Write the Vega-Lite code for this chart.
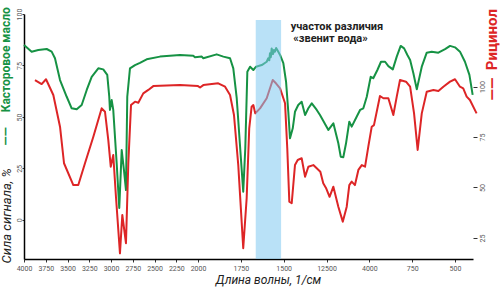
{
  "$schema": "https://vega.github.io/schema/vega-lite/v6.json",
  "width": 449,
  "height": 245,
  "autosize": {"type": "none"},
  "padding": {"left": 24, "top": 14, "right": 27, "bottom": 28},
  "background": "white",
  "config": {
    "view": {"stroke": null},
    "axis": {"grid": false, "labelFont": "Roboto", "titleFont": "Roboto", "labelOverlap": false, "labelFlush": false, "labelBound": false}
  },
  "datasets": {
    "castor": [
      {"wn":4000,"v":84.9},{"wn":3912,"v":81.7},{"wn":3836,"v":82.5},{"wn":3739,"v":83.0},{"wn":3682,"v":81.7},{"wn":3644,"v":78.5},{"wn":3586,"v":67.9},{"wn":3509,"v":59.8},{"wn":3452,"v":54.2},{"wn":3394,"v":53.7},{"wn":3337,"v":55.8},{"wn":3279,"v":63.1},{"wn":3222,"v":69.5},{"wn":3146,"v":73.6},{"wn":3089,"v":73.1},{"wn":3043,"v":70.4},{"wn":3020,"v":59.8},{"wn":3012,"v":53.4},{"wn":2992,"v":58.2},{"wn":2974,"v":53.4},{"wn":2935,"v":27.6},{"wn":2905,"v":5.8},{"wn":2877,"v":33.9},{"wn":2851,"v":24.2},{"wn":2828,"v":14.5},{"wn":2813,"v":59.8},{"wn":2782,"v":73.6},{"wn":2724,"v":75.2},{"wn":2667,"v":76.3},{"wn":2590,"v":78.0},{"wn":2437,"v":79.3},{"wn":2207,"v":80.1},{"wn":2054,"v":79.7},{"wn":2035,"v":79.0},{"wn":1978,"v":79.3},{"wn":1969,"v":78.5},{"wn":1891,"v":80.4},{"wn":1852,"v":79.3},{"wn":1813,"v":78.5},{"wn":1794,"v":73.6},{"wn":1774,"v":59.1},{"wn":1751,"v":31.5},{"wn":1736,"v":13.7},{"wn":1724,"v":34.8},{"wn":1712,"v":72.0},{"wn":1696,"v":74.4},{"wn":1677,"v":72.8},{"wn":1661,"v":74.4},{"wn":1628,"v":75.2},{"wn":1599,"v":76.8},{"wn":1590,"v":78.5},{"wn":1584,"v":77.5},{"wn":1580,"v":80.9},{"wn":1575,"v":79.0},{"wn":1570,"v":83.3},{"wn":1562,"v":80.5},{"wn":1557,"v":82.5},{"wn":1551,"v":81.7},{"wn":1544,"v":83.5},{"wn":1537,"v":82.5},{"wn":1521,"v":80.1},{"wn":1502,"v":76.1},{"wn":1486,"v":67.1},{"wn":1473,"v":52.5},{"wn":1463,"v":39.6},{"wn":1447,"v":44.5},{"wn":1434,"v":52.5},{"wn":1415,"v":55.8},{"wn":1395,"v":57.4},{"wn":1375,"v":50.9},{"wn":1356,"v":54.2},{"wn":1336,"v":56.6},{"wn":1307,"v":53.4},{"wn":1288,"v":50.9},{"wn":1239,"v":43.7},{"wn":1210,"v":46.9},{"wn":1181,"v":37.2},{"wn":1167,"v":30.7},{"wn":1152,"v":30.4},{"wn":1136,"v":37.2},{"wn":1117,"v":47.7},{"wn":1103,"v":45.3},{"wn":1074,"v":50.1},{"wn":1054,"v":53.4},{"wn":1035,"v":54.2},{"wn":1015,"v":59.8},{"wn":992,"v":69.5},{"wn":977,"v":68.8},{"wn":953,"v":72.8},{"wn":932,"v":76.8},{"wn":908,"v":76.8},{"wn":889,"v":74.7},{"wn":863,"v":73.1},{"wn":840,"v":79.3},{"wn":817,"v":84.5},{"wn":797,"v":83.3},{"wn":778,"v":80.1},{"wn":762,"v":77.7},{"wn":743,"v":71.2},{"wn":723,"v":63.4},{"wn":694,"v":74.4},{"wn":665,"v":81.2},{"wn":636,"v":81.7},{"wn":597,"v":81.2},{"wn":558,"v":82.9},{"wn":529,"v":84.5},{"wn":500,"v":83.8},{"wn":471,"v":81.7},{"wn":442,"v":76.8},{"wn":416,"v":70.4},{"wn":397,"v":60.7}
    ],
    "ricinol": [
      {"wn":3874,"v":103.2},{"wn":3797,"v":101.2},{"wn":3747,"v":103.6},{"wn":3663,"v":95.8},{"wn":3586,"v":80.1},{"wn":3540,"v":62.0},{"wn":3433,"v":51.2},{"wn":3376,"v":51.2},{"wn":3299,"v":62.0},{"wn":3203,"v":75.1},{"wn":3107,"v":89.2},{"wn":3069,"v":87.5},{"wn":3031,"v":73.5},{"wn":3003,"v":60.3},{"wn":2974,"v":66.1},{"wn":2943,"v":45.4},{"wn":2897,"v":17.4},{"wn":2870,"v":36.4},{"wn":2828,"v":22.4},{"wn":2801,"v":62.0},{"wn":2770,"v":90.8},{"wn":2724,"v":92.5},{"wn":2686,"v":92.0},{"wn":2629,"v":96.6},{"wn":2571,"v":98.3},{"wn":2514,"v":100.2},{"wn":2207,"v":100.7},{"wn":2000,"v":100.2},{"wn":1988,"v":99.5},{"wn":1969,"v":100.7},{"wn":1882,"v":101.6},{"wn":1842,"v":99.9},{"wn":1813,"v":95.8},{"wn":1790,"v":85.9},{"wn":1765,"v":61.1},{"wn":1736,"v":19.9},{"wn":1716,"v":44.7},{"wn":1701,"v":79.3},{"wn":1687,"v":90.0},{"wn":1677,"v":90.8},{"wn":1666,"v":86.7},{"wn":1638,"v":89.2},{"wn":1599,"v":94.2},{"wn":1564,"v":103.2},{"wn":1545,"v":101.6},{"wn":1521,"v":99.1},{"wn":1492,"v":91.7},{"wn":1479,"v":69.4},{"wn":1467,"v":43.0},{"wn":1453,"v":42.2},{"wn":1434,"v":61.1},{"wn":1418,"v":63.6},{"wn":1395,"v":64.5},{"wn":1375,"v":55.3},{"wn":1356,"v":60.3},{"wn":1327,"v":61.1},{"wn":1307,"v":59.5},{"wn":1286,"v":57.8},{"wn":1269,"v":52.1},{"wn":1253,"v":49.8},{"wn":1232,"v":45.4},{"wn":1210,"v":50.4},{"wn":1181,"v":40.5},{"wn":1155,"v":33.1},{"wn":1132,"v":40.5},{"wn":1117,"v":51.2},{"wn":1103,"v":52.9},{"wn":1084,"v":51.2},{"wn":1064,"v":58.7},{"wn":1044,"v":61.1},{"wn":1025,"v":60.3},{"wn":1006,"v":70.2},{"wn":986,"v":80.1},{"wn":973,"v":80.9},{"wn":938,"v":95.3},{"wn":918,"v":94.2},{"wn":889,"v":94.2},{"wn":860,"v":85.9},{"wn":840,"v":95.0},{"wn":821,"v":103.2},{"wn":786,"v":102.4},{"wn":762,"v":99.9},{"wn":739,"v":86.7},{"wn":718,"v":68.6},{"wn":694,"v":86.7},{"wn":665,"v":97.4},{"wn":626,"v":98.3},{"wn":597,"v":97.8},{"wn":568,"v":99.9},{"wn":529,"v":102.4},{"wn":500,"v":103.6},{"wn":471,"v":99.9},{"wn":452,"v":99.1},{"wn":432,"v":95.0},{"wn":413,"v":93.3},{"wn":374,"v":86.7}
    ],
    "notes": [
      {"wn":1459,"v":92.2,"t":"участок различия"},
      {"wn":1444,"v":86.5,"t":"«звенит вода»"}
    ],
    "band": [{"from":1663,"to":1515,"top":132.9,"bottom":14.6}]
  },
  "layer": [
    {
      "layer": [
        {
          "data": {"name": "castor"},
          "mark": {"type": "line", "color": "#169244", "strokeWidth": 2, "strokeJoin": "round"},
          "encoding": {
            "x": {"field": "wn", "type": "quantitative",
              "scale": {"domain": [4000, 2000, 395], "range": [0, 174, 449], "nice": false, "zero": false},
              "axis": {"orient": "bottom", "values": [4000,3750,3500,3250,3000,2750,2500,2250,2000,1750,1500,1250,1000,750,500],
                "tickCount": 40,
                "labelExpr": "datum.value == 1250 ? '12500' : datum.value == 1000 ? '4000' : format(datum.value, 'd')",
                "labelOverlap": false, "labelFlush": false, "labelBound": false,
                "domainColor": "#000", "domainWidth": 1.5, "tickColor": "#333", "tickSize": 3, "labelFontSize": 7, "labelColor": "#555", "labelPadding": 2,
                "title": "Длина волны, 1/см", "titleFontStyle": "italic", "titleFontWeight": "normal", "titleFontSize": 12, "titleColor": "#222",
                "titleX": 244, "titleY": 24, "titleBaseline": "alphabetic", "titleAlign": "center"}},
            "y": {"field": "v", "type": "quantitative",
              "scale": {"domain": [-19, 100], "nice": false, "zero": false},
              "axis": {"orient": "left", "values": [0,25,50,75,100], "tickCount": 10, "labelAngle": -90, "labelFontSize": 7, "labelColor": "#555",
                "labelOverlap": false,
                "domainColor": "#000", "domainWidth": 1.5, "tickColor": "#333", "tickSize": 2, "labelPadding": 0,
                "title": "Сила сигнала, %", "titleFontStyle": "italic", "titleFontWeight": "normal", "titleFontSize": 13, "titleColor": "#222",
                "titleAngle": -90, "titleX": -18, "titleY": 249, "titleAlign": "left", "titleBaseline": "middle"}}
          }
        },
        {
          "mark": {"type": "rule", "color": "#555", "strokeWidth": 1},
          "encoding": {"y": {"datum": 98.5, "type": "quantitative"}}
        },
        {
          "data": {"name": "notes"},
          "mark": {"type": "text", "align": "left", "baseline": "alphabetic", "font": "Roboto", "fontSize": 11, "fontWeight": "bold", "color": "#222"},
          "encoding": {
            "x": {"field": "wn", "type": "quantitative"},
            "y": {"field": "v", "type": "quantitative"},
            "text": {"field": "t"}
          }
        }
      ]
    },
    {
      "layer": [
        {
          "data": {"name": "ricinol"},
          "mark": {"type": "line", "color": "#dd2526", "strokeWidth": 2, "strokeJoin": "round"},
          "encoding": {
            "x": {"field": "wn", "type": "quantitative",
              "axis": {"orient": "top", "domain": false, "ticks": false, "labels": false,
                "title": "——\u00a0\u00a0\u00a0\u00a0\u00a0Касторовое масло", "titleColor": "#169244", "titleFontWeight": "bold", "titleFontSize": 12,
                "titleAngle": -90, "titleX": -19, "titleY": 131, "titleAlign": "left", "titleBaseline": "middle"}},
            "y": {"field": "v", "type": "quantitative",
              "scale": {"domain": [14.6, 135.9], "nice": false, "zero": false},
              "axis": {"orient": "right", "offset": 4, "values": [25,50,75,100], "tickCount": 10, "domain": false, "labelAngle": -90, "labelFontSize": 7, "labelColor": "#555",
                "labelOverlap": false,
                "tickColor": "#333", "tickSize": -4, "labelPadding": 5,
                "title": "——\u00a0\u00a0Рицинол", "titleColor": "#dd2526", "titleFontWeight": "bold", "titleFontSize": 15,
                "titleAngle": -90, "titleX": 14, "titleY": 86, "titleAlign": "left", "titleBaseline": "middle"}}
          }
        },
        {
          "data": {"name": "band"},
          "mark": {"type": "rect", "color": "#7fc8f0", "opacity": 0.55},
          "encoding": {
            "x": {"field": "from", "type": "quantitative"},
            "x2": {"field": "to"},
            "y": {"field": "top", "type": "quantitative"},
            "y2": {"field": "bottom"}
          }
        },
        {
          "mark": {"type": "rule", "color": "#000", "strokeWidth": 2},
          "encoding": {
            "x": {"datum": 370, "type": "quantitative"},
            "y": {"datum": 104, "type": "quantitative"},
            "y2": {"datum": 12.6}
          }
        }
      ]
    }
  ],
  "resolve": {"scale": {"y": "independent"}, "axis": {"x": "independent", "y": "independent"}}
}
